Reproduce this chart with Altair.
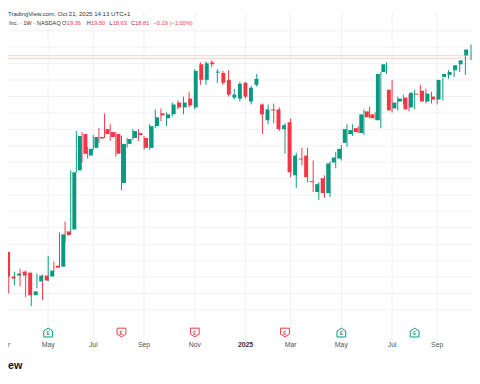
import altair as alt
import pandas as pd

# ---------------- data (weekly candles, Mar 2024 - Oct 2025) ----------------
opens = [7.53, 6.03, 6.09, 6.33, 6.27, 4.89, 5.73, 6.09, 6.03, 6.69,
         6.63, 8.78, 8.90, 12.50, 14.71, 13.40, 13.87, 14.53, 15.01, 14.83,
         14.71, 11.72, 14.11, 14.47, 14.77, 14.47, 13.87, 15.19, 15.97, 15.67,
         15.91, 16.63, 16.33, 16.87, 16.33, 18.96, 18.01, 19.08, 18.45, 18.43,
         18.01, 16.93, 16.87, 17.83, 16.69, 17.71, 16.51, 15.55, 16.21, 16.21,
         15.01, 15.43, 12.20, 13.22, 13.40, 11.84, 11.18, 12.02, 11.12, 12.98,
         13.22, 14.17, 14.71, 15.07, 14.77, 16.09, 15.91, 15.55, 18.49, 17.41,
         16.27, 16.69, 16.93, 16.33, 17.17, 17.35, 16.69, 16.99, 16.81, 18.19,
         18.31, 18.60, 18.96, 19.50]
highs = [7.71, 6.21, 6.33, 6.51, 6.39, 5.25, 6.21, 6.15, 7.29, 6.93,
         8.72, 9.38, 12.50, 14.89, 14.83, 13.93, 14.65, 15.07, 15.97, 15.31,
         14.83, 14.59, 14.47, 15.01, 15.01, 14.59, 15.31, 16.21, 16.27, 16.03,
         16.63, 16.75, 16.99, 17.29, 18.66, 19.08, 19.14, 19.20, 18.66, 18.55,
         18.60, 17.47, 17.89, 17.89, 17.65, 18.37, 16.57, 16.51, 16.57, 16.33,
         15.37, 15.67, 13.57, 13.87, 13.87, 13.10, 11.78, 12.20, 13.04, 13.63,
         14.05, 15.31, 15.31, 15.19, 16.21, 16.39, 16.03, 18.49, 19.08, 18.01,
         16.99, 17.11, 17.11, 17.41, 17.71, 17.47, 17.29, 17.17, 18.13, 18.60,
         18.66, 19.08, 19.50, 20.16]
lows = [4.83, 5.01, 5.49, 5.43, 4.77, 4.23, 5.31, 4.59, 5.73, 6.33,
        6.57, 8.13, 8.60, 12.38, 12.98, 13.22, 13.75, 14.17, 14.47, 14.29,
        13.34, 11.30, 13.87, 14.35, 14.29, 13.75, 13.75, 15.07, 15.49, 15.19,
        15.79, 16.21, 15.91, 16.33, 16.21, 17.71, 17.71, 18.78, 17.83, 17.71,
        16.99, 16.81, 16.69, 16.87, 16.51, 17.59, 14.71, 15.31, 15.37, 14.89,
        13.51, 12.08, 11.42, 12.80, 11.78, 11.18, 10.70, 10.82, 10.88, 12.62,
        13.10, 13.93, 14.59, 14.77, 14.65, 15.67, 15.55, 15.07, 18.37, 16.03,
        16.15, 16.51, 16.09, 16.21, 16.87, 16.57, 16.57, 16.51, 16.75, 18.07,
        18.19, 18.49, 18.31, 19.20]
closes = [6.03, 5.91, 6.21, 6.09, 4.89, 5.13, 6.09, 5.79, 6.39, 6.57,
          8.60, 8.55, 12.38, 14.59, 13.51, 13.81, 14.53, 14.44, 14.71, 14.53,
          13.51, 14.11, 14.41, 14.89, 14.65, 13.87, 15.19, 15.73, 15.85, 15.91,
          16.51, 16.33, 16.63, 16.45, 18.55, 18.01, 19.02, 18.96, 18.51, 17.83,
          17.11, 17.11, 17.77, 16.99, 17.53, 18.07, 15.91, 16.21, 16.15, 15.01,
          15.25, 12.38, 13.40, 13.16, 12.08, 11.78, 11.66, 11.12, 12.92, 13.28,
          13.81, 15.01, 14.95, 14.83, 15.91, 15.73, 15.67, 18.37, 18.96, 16.15,
          16.63, 16.87, 16.21, 17.23, 17.11, 16.69, 17.17, 16.81, 18.01, 18.37,
          18.49, 18.90, 19.20, 19.86]

first_week = pd.Timestamp("2024-03-11")
weeks = list(range(len(opens)))
dates = [(first_week + pd.Timedelta(weeks=w)).strftime("%Y-%m-%d") for w in weeks]

# time-axis labels (first weekly bar of each labelled month)
label_weeks = [8, 16, 25, 34, 43, 51, 60, 69, 77]
label_texts = ["May", "Jul", "Sep", "Nov", "2025", "Mar", "May", "Jul", "Sep"]
label_bold = [False, False, False, False, True, False, False, False, False]
edge_label = "r"  # tail of the cut-off "Mar" at the left edge

# earnings markers
earn_weeks = [0, 8, 21, 34, 50, 60, 73]
earn_kind = ["miss", "beat", "miss", "miss", "miss", "beat", "beat"]

# horizontal price grid and current-price lines
grid_prices = list(range(4, 22))
price_lines = [19.48, 19.32]

header_1 = "TradingView.com, Oct 21, 2025 14:13 UTC+1"
header_2 = [("Inc. · 1W · NASDAQ", "dark"), ("O", "dark"), ("19.36", "red"),
            ("H", "dark"), ("19.50", "red"), ("L", "dark"), ("18.63", "red"),
            ("C", "dark"), ("18.81", "red"), ("−0.19 (−1.00%)", "red")]
header_2_x = [1, 55, 59.8, 80, 84.4, 103, 106.5, 125, 129.4, 148]
logo_text = "ew"

# ---------------- styling ----------------
UP = "#089981"
DOWN = "#F23645"
W, H = 472, 368
FONT = "Liberation Sans"

df = pd.DataFrame({"week": weeks, "date": dates, "open": opens, "high": highs,
                   "low": lows, "close": closes})
df["dir"] = ["up" if c >= o else "down" for o, c in zip(opens, closes)]

xs = alt.Scale(domain=[0.872, 83.17], nice=False, zero=False)
ys = alt.Scale(domain=[0.162, 22.198], nice=False, zero=False)
col = alt.Color("dir:N", scale=alt.Scale(domain=["up", "down"], range=[UP, DOWN]), legend=None)

hgrid = alt.Chart(pd.DataFrame({"p": grid_prices})).mark_rule(
    color="#f1f1f1", strokeWidth=1).encode(y=alt.Y("p:Q", scale=ys, axis=None))

vgrid = alt.Chart(pd.DataFrame({"week": label_weeks})).mark_rule(
    color="#f1f1f1", strokeWidth=1).encode(
    x=alt.X("week:Q", scale=xs, axis=None), y=alt.value(0), y2=alt.value(347))

plines = alt.Chart(pd.DataFrame({"p": price_lines})).mark_rule(
    color="#f6d2c6", strokeWidth=1).encode(y=alt.Y("p:Q", scale=ys, axis=None))

base = alt.Chart(df).encode(x=alt.X("week:Q", scale=xs, axis=None), color=col)
wicks = base.mark_rule(strokeWidth=1).encode(
    y=alt.Y("low:Q", scale=ys, axis=None), y2="high:Q")
bodies = base.mark_bar(size=4, minBandSize=1).encode(
    y=alt.Y("open:Q", scale=ys, axis=None), y2="close:Q")

ed = pd.DataFrame({"week": earn_weeks, "kind": earn_kind})
shield = "M-1,-1L1,-1L1,0.35L0,1L-1,0.35Z"
house = "M-1,1L1,1L1,-0.35L0,-1L-1,-0.35Z"
ecol = alt.Color("kind:N", scale=alt.Scale(domain=["miss", "beat"], range=[DOWN, UP]), legend=None)
earn_icons = alt.Chart(ed).mark_point(filled=False, strokeWidth=1, opacity=1).encode(
    x=alt.X("week:Q", scale=xs, axis=None), y=alt.value(327),
    shape=alt.Shape("kind:N", scale=alt.Scale(domain=["miss", "beat"], range=[shield, house]), legend=None),
    color=ecol, size=alt.value(80))
earn_e = alt.Chart(ed).transform_filter("datum.week >= 1").mark_text(
    font=FONT, fontSize=5, fontWeight="bold", baseline="middle").encode(
    x=alt.X("week:Q", scale=xs, axis=None), y=alt.value(327.5), text=alt.value("E"), color=ecol)

ld = pd.DataFrame({"week": label_weeks, "txt": label_texts, "bold": label_bold})
labels_n = alt.Chart(ld).transform_filter("!datum.bold").mark_text(
    font=FONT, fontSize=7, color="#555555", baseline="middle").encode(
    x=alt.X("week:Q", scale=xs, axis=None), y=alt.value(340), text="txt:N")
labels_b = alt.Chart(ld).transform_filter("datum.bold").mark_text(
    font=FONT, fontSize=7, fontWeight="bold", color="#333333", baseline="middle").encode(
    x=alt.X("week:Q", scale=xs, axis=None), y=alt.value(340), text="txt:N")
edge = alt.Chart(pd.DataFrame({"t": [edge_label]})).mark_text(
    font=FONT, fontSize=7, color="#555555", align="left", baseline="middle").encode(
    x=alt.value(0), y=alt.value(340), text="t:N")

head1 = alt.Chart(pd.DataFrame({"t": [header_1]})).mark_text(
    font=FONT, fontSize=6.2, color="#333333", align="left", baseline="middle").encode(
    x=alt.value(0), y=alt.value(3), text="t:N")
hd2 = pd.DataFrame({"t": [s for s, _ in header_2], "c": [c for _, c in header_2], "px": header_2_x})
head2 = alt.Chart(hd2).mark_text(font=FONT, fontSize=5.8, align="left", baseline="middle").encode(
    x=alt.X("px:Q", scale=alt.Scale(domain=[0, W], range=[0, W]), axis=None),
    y=alt.value(12.5), text="t:N",
    color=alt.Color("c:N", scale=alt.Scale(domain=["dark", "red"], range=["#333333", DOWN]), legend=None))

logo = alt.Chart(pd.DataFrame({"t": [logo_text]})).mark_text(
    font=FONT, fontSize=11, fontWeight="bold", color="#131722", align="left", baseline="middle").encode(
    x=alt.value(0), y=alt.value(361), text="t:N")

chart = alt.layer(hgrid, vgrid, plines, wicks, bodies, earn_icons, earn_e,
                  labels_n, labels_b, edge, head1, head2, logo).resolve_scale(
    color="independent", x="independent").properties(
    width=W, height=H, padding=0,
    autosize=alt.AutoSizeParams(type="none")).configure_view(stroke=None)

chart.save("out.html", embed_options={"renderer": "svg", "actions": False})
